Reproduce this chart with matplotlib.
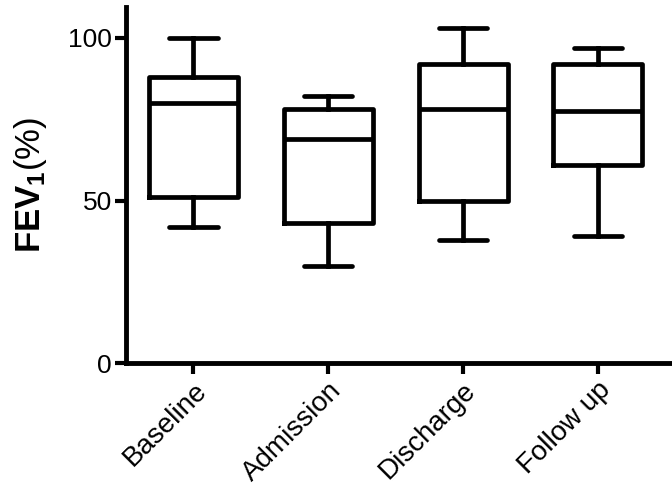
import matplotlib
matplotlib.use('Agg')
import matplotlib.pyplot as plt

# Werte (FEV1 in %)
gruppen = ['Baseline', 'Admission', 'Discharge', 'Follow up']
whisker_unten = [42, 30, 38, 39]
q1 = [51, 43, 50, 61]
median = [80, 69, 78, 77.5]
q3 = [88, 78, 92, 92]
whisker_oben = [100, 82, 103, 97]

plt.rcParams['font.family'] = ['Liberation Sans', 'DejaVu Sans']
plt.rcParams['mathtext.fontset'] = 'custom'
plt.rcParams['mathtext.rm'] = 'Liberation Sans'
plt.rcParams['mathtext.bf'] = 'Liberation Sans:bold'

stats = []
for i in range(len(gruppen)):
    stats.append({'label': gruppen[i], 'whislo': whisker_unten[i], 'q1': q1[i],
                  'med': median[i], 'q3': q3[i], 'whishi': whisker_oben[i], 'fliers': []})

fig = plt.figure(figsize=(6.72, 4.92), dpi=100)
ax = fig.add_axes([0.1875, 0.2616, 0.8125, 0.7244])

lw = 3.4
ax.bxp(stats, positions=range(1, 5), widths=0.66, capwidths=0.36, showfliers=False,
       boxprops=dict(color='black', linewidth=lw),
       medianprops=dict(color='black', linewidth=lw),
       whiskerprops=dict(color='black', linewidth=lw),
       capprops=dict(color='black', linewidth=lw, solid_capstyle='round'))

ax.set_xlim(0.5, 4.55)
ax.set_ylim(0, 109.5)
ax.set_yticks([0, 50, 100])

for s in ['top', 'right']:
    ax.spines[s].set_visible(False)
for s in ['left', 'bottom']:
    ax.spines[s].set_linewidth(3.5)

ax.tick_params(axis='both', width=3, length=8, labelsize=19, pad=2)
ax.tick_params(axis='x', labelsize=20)
ax.set_xticks(range(1, 5))
ax.set_xticklabels(gruppen, rotation=45, ha='right', rotation_mode='anchor')

ax.set_ylabel(r'$\mathbf{FEV_1}$(%)', fontsize=25, labelpad=14)

plt.savefig('out.png', dpi=100)
